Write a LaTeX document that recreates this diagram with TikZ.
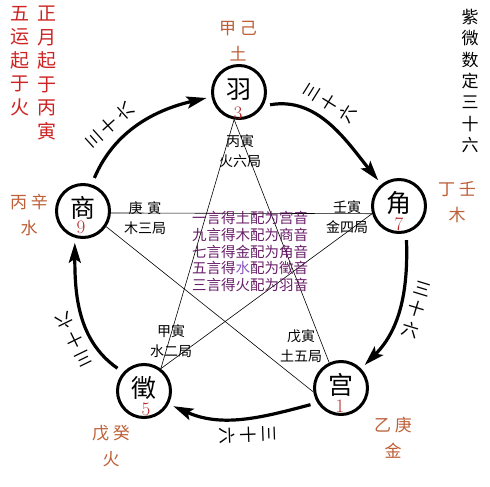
\documentclass[tikz,border=0pt]{standalone}
\usepackage{fontspec}
\newfontfamily\cjk{Noto Sans CJK SC}
\usetikzlibrary{arrows.meta}
\definecolor{redtxt}{RGB}{205,35,35}
\definecolor{stem}{RGB}{190,95,55}
\definecolor{numred}{RGB}{180,40,40}
\definecolor{purp}{RGB}{105,30,105}
\definecolor{lpurp}{RGB}{140,85,195}
\begin{document}
\begin{tikzpicture}[x=1pt,y=1pt,
  tone/.style={circle,draw,line width=3pt,fill=white,minimum size=53pt,inner sep=0pt,
    text height=20pt,text depth=6.5pt,font=\cjk\fontsize{25}{25}\selectfont},
  num/.style={text=numred,font=\fontsize{19}{19}\selectfont,inner sep=0pt},
  arcline/.style={line width=3.2pt,-{Stealth[length=20pt,width=12pt,inset=4pt]},shorten <=7pt,shorten >=5pt},
  star/.style={line width=0.6pt},
  stemlbl/.style={text=stem,font=\cjk\fontsize{17}{26}\selectfont,align=center,inner sep=0pt},
  ju/.style={font=\cjk\fontsize{14}{20}\selectfont,align=center,inner sep=0pt},
  count/.style={font=\cjk\fontsize{17}{21}\selectfont,align=center,inner sep=0pt},
  column/.style={align=center,inner sep=0pt},
]
\useasboundingbox (0,0) rectangle (490,-487);
\fill[white] (0,0) rectangle (490,-487);

% tone nodes
\node[tone] (yu) at (239,-92) {羽};
\node[tone] (jue) at (399,-206) {角};
\node[tone] (gong) at (341,-388) {宫};
\node[tone] (zhi) at (144,-391) {徵};
\node[tone] (shang) at (83,-211) {商};

% numbers
\node[num] (n3) at (238,-113) {3};
\node[num] (n7) at (399,-224) {7};
\node[num] (n9) at (81,-227) {9};
\node[num] (n5) at (146,-409) {5};
\node[num] (n1) at (340,-406) {1};

% star lines
\draw[star] (shang.-4) -- (jue.196);
\draw[star] (shang.-34) -- (gong.188);
\draw[star] (yu.260) -- (zhi.53);
\draw[star] (yu.260) -- (gong.115);
\draw[star] (zhi.53) -- (jue.196);

% circle arcs
\draw[arcline] (shang.72) to[out=67,in=193] (yu.190);
\draw[arcline] (yu.-30) to[out=10,in=129] (jue.129);
\draw[arcline] (jue.-75) to[out=-88,in=45] (gong.44);
\draw[arcline] (gong.212) to[out=195,in=-24] (zhi.-28);
\draw[arcline] (zhi.138) to[out=145,in=-90] (shang.-107);

% stem labels
\node[stemlbl] (s-yu) at (238,-41) {甲\hspace{4pt}己\\土};
\node[stemlbl] (s-jue) at (457,-202) {丁\hspace{4pt}壬\\木};
\node[stemlbl] (s-shang) at (29,-215) {丙\hspace{4pt}辛\\水};
\node[stemlbl] (s-zhi) at (111,-446) {戊\hspace{4pt}癸\\火};
\node[stemlbl] (s-gong) at (393,-438) {乙\hspace{4pt}庚\\金};

% ju labels
\node[ju] (j-yu) at (240,-151) {丙寅\\火六局};
\node[ju] (j-shang) at (145,-218) {庚\hspace{5pt}寅\\木三局};
\node[ju] (j-jue) at (347,-217) {壬寅\\金四局};
\node[ju] (j-zhi) at (171,-341) {甲寅\\水二局};
\node[ju] (j-gong) at (301,-346) {戊寅\\土五局};

% central rules
\node[column,font=\cjk\fontsize{14.5}{16.8}\selectfont,text=purp] (rules) at (250,-251.5)
  {一言得土配为宫音\\九言得木配为商音\\七言得金配为角音\\五言得\textcolor{lpurp}{水}配为徵音\\三言得火配为羽音};

% corner columns
\node[column,font=\cjk\fontsize{19}{23.6}\selectfont,text=redtxt] (zhengyue) at (47,-73) {正\\月\\起\\于\\丙\\寅};
\node[column,font=\cjk\fontsize{19}{23.6}\selectfont,text=redtxt] (wuyun) at (20,-61) {五\\运\\起\\于\\火};
\node[column,font=\cjk\fontsize{17}{21.3}\selectfont] (ziwei) at (470,-81) {紫\\微\\数\\定\\三\\十\\六};

% arc counts
\node[count,rotate=132] (c1) at (110,-125) {三\\十\\六};
\node[count,rotate=58] (c2) at (330,-103) {三\\十\\六};
\node[count,rotate=-17] (c3) at (416,-310) {三\\十\\六};
\node[count,rotate=-88] (c4) at (247,-435) {三\\十\\六};
\node[count,rotate=-154] (c5) at (74,-339) {三\\十\\六};
\end{tikzpicture}
\end{document}
